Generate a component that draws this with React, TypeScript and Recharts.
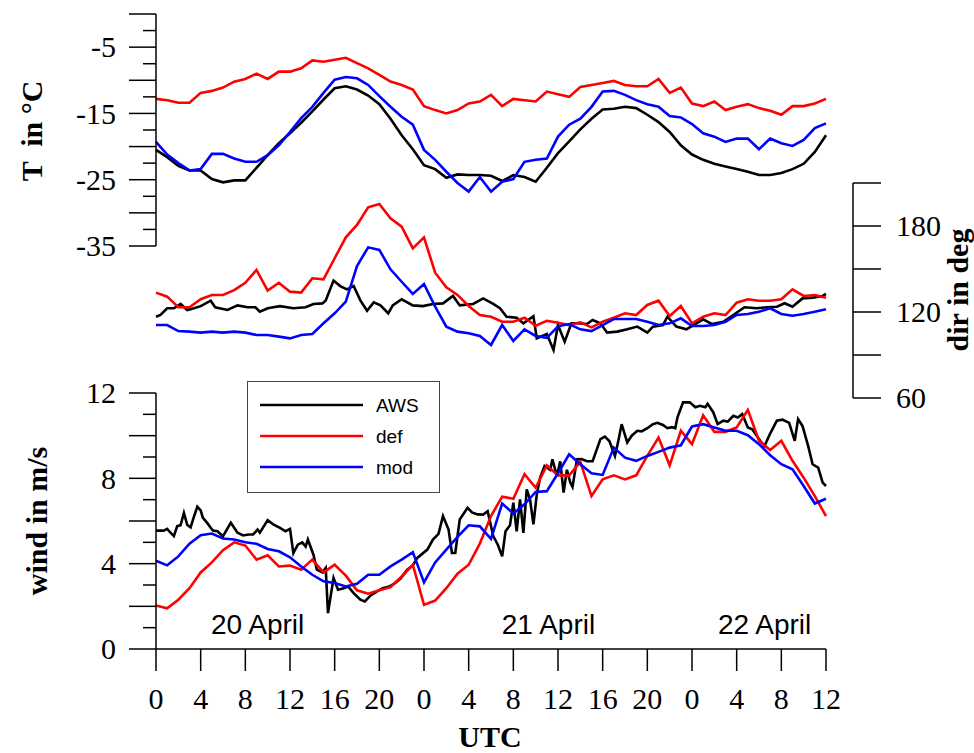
import { LineChart, Line, XAxis, YAxis, ReferenceDot } from 'recharts'

// hours since 20 April 00 UTC
const hours = Array.from({ length: 61 }, (_, i) => i)
const hourTicks = [0, 4, 8, 12, 16, 20, 24, 28, 32, 36, 40, 44, 48, 52, 56, 60]
const tempTicks = [-35, -32.5, -30, -27.5, -25, -22.5, -20, -17.5, -15, -12.5, -10, -7.5, -5, -2.5, 0]
const dirTicks = [60, 90, 120, 150, 180, 210]
const windTicks = [0, 1, 2, 3, 4, 5, 6, 7, 8, 9, 10, 11, 12]

const series = [
  { name: 'AWS', color: '#000000' },
  { name: 'def', color: '#ff0000' },
  { name: 'mod', color: '#0000ff' },
]

const dateLabels = [
  { h: 9.1, w: 1.18, text: '20 April' },
  { h: 35.15, w: 1.18, text: '21 April' },
  { h: 54.5, w: 1.18, text: '22 April' },
]

// temperature (°C), hourly
const tempAws = [
  -20.5, -21.6, -22.9, -23.6, -23.6, -24.9, -25.4, -25.1, -25.1, -23.2,
  -21.3, -19.5, -18.0, -16.4, -14.7, -12.9, -11.2, -10.9, -11.4, -12.3,
  -13.6, -15.8, -18.3, -20.4, -22.8, -23.4, -24.7, -24.2, -24.3, -24.3,
  -24.4, -25.2, -24.3, -24.6, -25.3, -23.2, -21.0, -19.2, -17.4, -15.8,
  -14.4, -14.3, -14.0, -14.2, -15.2, -16.3, -17.8, -19.8, -21.2, -22.0,
  -22.6, -23.0, -23.4, -23.8, -24.3, -24.3, -24.0, -23.4, -22.6, -20.8, -18.3,
]
const tempDef = [
  -12.8, -13.0, -13.4, -13.4, -11.9, -11.6, -11.1, -10.2, -9.8, -9.0,
  -9.8, -8.7, -8.7, -8.2, -7.0, -7.2, -6.9, -6.6, -7.4, -8.2,
  -9.2, -10.2, -10.7, -11.4, -13.9, -14.5, -15.0, -14.5, -13.5, -13.2,
  -12.2, -13.9, -12.8, -13.0, -13.2, -11.7, -12.1, -12.5, -11.0, -10.7,
  -10.4, -10.1, -10.7, -10.9, -10.9, -9.8, -11.9, -11.1, -13.5, -13.9,
  -13.2, -14.5, -14.0, -13.6, -14.2, -14.6, -15.2, -13.9, -13.9, -13.5, -12.8,
]
const tempMod = [
  -19.3, -21.2, -22.5, -23.6, -23.4, -21.1, -21.1, -21.8, -22.3, -22.3,
  -21.3, -19.8, -17.8, -15.7, -14.0, -11.9, -9.9, -9.5, -9.7, -10.7,
  -12.4, -14.0, -15.5, -16.7, -20.5, -22.0, -23.8, -25.5, -26.8, -24.6,
  -26.8, -25.3, -24.9, -22.3, -22.0, -21.8, -18.5, -16.7, -15.8, -14.0,
  -11.7, -11.6, -12.2, -13.0, -13.6, -14.0, -15.4, -15.6, -16.6, -18.0,
  -18.5, -19.3, -18.8, -18.8, -20.4, -18.8, -19.5, -19.9, -19.0, -17.2, -16.5,
]

// wind direction (deg)
const dirAws: [number, number][] = [
  [0, 116.7], [0.4, 118], [1.0, 122.6], [1.6, 122.6], [2.2, 125.6], [2.8, 121.4], [3.4, 122.6],
  [4.0, 124.1], [4.9, 127.9], [5.3, 123.3], [6.4, 121.4], [7.3, 124.6], [8.2, 123.3], [8.9, 123.3],
  [9.3, 120.2], [10.0, 122.6], [11.1, 124.1], [12.3, 122.6], [13.4, 123.3], [14.1, 125.6], [14.9, 126],
  [15.2, 128.1], [15.9, 141.9], [16.5, 138.1], [17.1, 135.8], [17.7, 138.1], [18.3, 128.1], [18.9, 120.9],
  [19.5, 126.7], [20.1, 124.6], [20.8, 119.1], [21.2, 124.6], [22.0, 128.9], [23.0, 124.6], [23.9, 124.1],
  [24.8, 125.6], [25.7, 126.0], [26.6, 131.2], [27.2, 124.6], [28.4, 125.6], [29.3, 129.5], [30.2, 125.6],
  [30.8, 122.6], [31.4, 116.7], [32.3, 116], [32.9, 112.1], [33.8, 117], [34.1, 101.6], [35.0, 104.7],
  [35.6, 93.5], [36.0, 110.9], [36.6, 99.3], [37.2, 112.1], [37.7, 112.1], [38.6, 111.6], [39.1, 114.4],
  [39.8, 112.1], [40.4, 105.6], [41.3, 106.3], [42.2, 107.9], [43.1, 109.8], [44.0, 105.6], [44.5, 109.8],
  [45.4, 110.9], [45.8, 116.7], [46.6, 109.8], [47.5, 107.9], [48.4, 112.1], [49.0, 114.9], [49.8, 111.6],
  [50.8, 113.2], [51.7, 117.9], [52.7, 123.3], [53.8, 122.6], [54.7, 123.3], [55.6, 123.7], [56.3, 126.1],
  [57.0, 123.7], [57.9, 129.5], [58.8, 130.0], [59.7, 131.2], [60.0, 132.7],
]
const dirDef = [
  133.5, 130.7, 123.3, 123.3, 128.9, 131.9, 131.9, 135.3, 140.4, 149.3,
  134.9, 140.4, 134.2, 133.5, 143.5, 142.8, 157.5, 172.1, 180.7, 193.0,
  195.3, 185.4, 179.5, 164.4, 172.1, 147.4, 137.2, 131.9, 124.2, 117.9,
  116.7, 113.2, 113.2, 116.0, 110.4, 113.9, 112.5, 110.9, 112.8, 109.3,
  113.2, 116.0, 119.1, 117.9, 124.9, 127.9, 117.2, 124.2, 112.1, 116.7,
  119.1, 117.9, 126.5, 128.9, 127.9, 127.9, 128.9, 135.8, 131.2, 131.9, 130.0,
]
const dirMod = [
  110.9, 110.9, 106.7, 106.3, 105.6, 106.3, 105.6, 106.3, 105.6, 104.0,
  104.0, 102.8, 101.6, 104.0, 104.7, 112.1, 119.1, 127.2, 152.1, 165.1,
  163.3, 149.8, 141.1, 132.6, 139.5, 123.7, 109.8, 106.3, 105.2, 103.3,
  97.0, 110.9, 99.8, 107.9, 103.3, 102.0, 110.0, 111.6, 107.9, 106.7,
  110.9, 115.1, 115.1, 115.1, 113.2, 110.9, 112.1, 115.6, 110.2, 110.2,
  110.9, 113.2, 117.9, 118.6, 120.2, 122.6, 118.6, 117.4, 118.6, 120.2, 121.9,
]

// wind speed (m/s)
const windAws: [number, number][] = [
  [0, 5.55], [0.7, 5.55], [1.0, 5.63], [1.3, 5.45], [1.6, 5.29], [1.9, 5.76], [2.2, 5.8], [2.5, 6.38],
  [2.8, 5.81], [3.1, 5.7], [3.4, 6.2], [3.7, 6.67], [4.0, 6.5], [4.2, 6.15], [4.6, 5.9], [4.9, 5.68],
  [5.1, 5.55], [5.5, 5.52], [6.0, 5.29], [6.7, 5.92], [7.3, 5.45], [7.8, 5.32], [8.3, 5.37], [8.7, 5.37],
  [9.1, 5.6], [9.3, 5.45], [10.0, 6.04], [10.5, 5.84], [11.1, 5.68], [11.6, 5.52], [12.0, 5.63], [12.3, 4.5],
  [12.7, 4.89], [13.1, 5.0], [13.4, 4.8], [13.6, 5.13], [14.1, 4.42], [14.4, 3.72], [14.9, 3.59], [15.2, 3.8],
  [15.4, 1.68], [15.9, 3.33], [16.3, 2.78], [16.8, 2.85], [17.2, 2.93], [17.7, 2.62], [18.3, 2.31], [18.7, 2.23],
  [19.2, 2.5], [19.8, 2.7], [20.3, 2.85], [20.9, 2.93], [21.4, 3.09], [21.9, 3.3], [22.5, 3.72], [23.0, 3.92],
  [23.4, 4.27], [24.3, 4.66], [24.8, 5.13], [25.3, 5.4], [25.7, 6.23], [26.2, 5.6], [26.5, 4.5], [26.8, 4.5],
  [27.2, 6.07], [27.9, 6.62], [28.3, 6.4], [28.8, 6.31], [29.3, 6.3], [29.7, 6.46], [30.2, 5.29], [30.6, 4.9],
  [31.0, 4.34], [31.3, 5.52], [31.7, 5.8], [32.0, 6.86], [32.3, 5.52], [32.6, 7.01], [32.9, 5.44], [33.2, 7.48],
  [33.5, 7.0], [33.8, 5.84], [34.1, 7.25], [34.4, 8.03], [34.8, 8.58], [35.3, 8.4], [35.5, 8.89], [35.9, 8.11],
  [36.2, 8.8], [36.5, 7.33], [36.8, 8.4], [37.1, 7.8], [37.3, 7.6], [37.7, 8.89], [38.1, 8.9], [38.6, 8.8],
  [39.1, 8.8], [39.8, 9.84], [40.2, 9.96], [40.6, 9.75], [41.1, 9.05], [41.4, 9.75], [41.7, 10.54], [42.2, 9.68],
  [42.6, 10.0], [43.1, 10.23], [43.5, 10.2], [44.0, 10.35], [44.5, 10.54], [44.9, 10.6], [45.4, 10.5], [45.8, 10.35],
  [46.2, 10.4], [46.5, 10.35], [46.7, 10.86], [47.2, 11.56], [47.8, 11.56], [48.3, 11.33], [48.7, 11.4], [49.2, 11.33],
  [49.4, 11.49], [49.9, 11.1], [50.3, 10.54], [50.8, 10.7], [51.2, 10.66], [51.7, 10.93], [52.1, 10.85], [52.5, 11.01],
  [53.0, 10.38], [53.4, 10.3], [54.1, 9.76], [54.5, 9.52], [55.0, 10.1], [55.6, 10.7], [56.1, 10.75], [56.7, 10.6],
  [57.2, 9.76], [57.5, 10.78], [57.9, 10.45], [58.4, 9.52], [58.8, 8.66], [59.3, 8.5], [59.7, 7.8], [60.0, 7.64],
]
const windDef = [
  2.04, 1.91, 2.31, 2.85, 3.59, 4.06, 4.63, 5.0, 4.85, 4.19,
  4.39, 3.87, 3.91, 3.72, 4.19, 3.59, 3.95, 3.44, 2.75, 2.59,
  2.75, 2.9, 3.4, 3.95, 2.07, 2.27, 2.85, 3.53, 3.95, 4.94,
  6.23, 7.14, 7.04, 8.19, 7.56, 8.61, 8.14, 8.14, 8.77, 7.17,
  7.95, 8.14, 7.95, 8.14, 9.05, 9.91, 8.61, 10.23, 9.6, 10.96,
  10.18, 10.18, 10.38, 11.21, 9.76, 9.33, 9.76, 8.82, 8.03, 7.17, 6.23,
]
const windMod = [
  4.14, 3.92, 4.34, 4.94, 5.33, 5.41, 5.18, 5.13, 5.0, 4.93,
  4.69, 4.58, 4.3, 3.87, 3.48, 3.17, 3.09, 2.93, 3.06, 3.48,
  3.48, 3.87, 4.19, 4.54, 3.12, 4.06, 4.66, 5.26, 5.8, 5.75,
  5.16, 6.82, 6.35, 6.78, 7.36, 7.4, 8.24, 9.13, 8.66, 8.24,
  8.16, 9.44, 8.97, 8.82, 9.05, 9.24, 9.44, 9.55, 10.43, 10.54,
  10.38, 10.23, 10.23, 10.02, 9.6, 9.08, 8.66, 8.42, 7.64, 6.82, 7.04,
]

const SERIF = "'Times New Roman', 'Liberation Serif', serif"
const SANS = "Arial, 'Liberation Sans', sans-serif"
const W = 974
const H = 753
const axisLine = { stroke: '#000', strokeWidth: 1.5 }

const toRows = (vals: number[]) => vals.map((v, i) => ({ h: hours[i], v }))
const toPts = (pts: [number, number][]) => pts.map(([h, v]) => ({ h, v }))
const isMult = (v: number, step: number) => Math.abs(v / step - Math.round(v / step)) < 1e-6

const layer: React.CSSProperties = { position: 'absolute', left: 0, top: 0 }

function LeftTick({ x, y, payload, major, label }: any) {
  const v = payload.value
  const len = major(v) ? 27 : 13
  return (
    <g>
      <line x1={x - len} x2={x} y1={y} y2={y} stroke="#000" strokeWidth={1.5} />
      {label(v) && (
        <text x={x - 40} y={y} dy="0.34em" textAnchor="end" fontFamily={SERIF} fontSize={30} fill="#000">
          {v}
        </text>
      )}
    </g>
  )
}

function RightTick({ x, y, payload }: any) {
  const v = payload.value
  return (
    <g>
      <line x1={x} x2={x + 28} y1={y} y2={y} stroke="#000" strokeWidth={1.5} />
      {isMult(v, 60) && (
        <text x={x + 43} y={y} dy="0.34em" textAnchor="start" fontFamily={SERIF} fontSize={30} fill="#000">
          {v}
        </text>
      )}
    </g>
  )
}

function HourTick({ x, y, payload }: any) {
  return (
    <g>
      <line x1={x} x2={x} y1={y} y2={y + 22} stroke="#000" strokeWidth={1.5} />
      <text x={x} y={y + 60} textAnchor="middle" fontFamily={SERIF} fontSize={30} fill="#000">
        {payload.value % 24}
      </text>
    </g>
  )
}

function lines(aws: { h: number; v: number }[], def: { h: number; v: number }[], mod: { h: number; v: number }[]) {
  return [aws, def, mod].map((d, i) => (
    <Line
      key={series[i].name}
      data={d}
      dataKey="v"
      type="linear"
      stroke={series[i].color}
      strokeWidth={2.6}
      dot={false}
      activeDot={false}
      isAnimationActive={false}
    />
  ))
}

export default function App() {
  return (
    <div style={{ position: 'absolute', left: 0, top: 0, width: W, height: H, background: '#fff', overflow: 'hidden' }}>
      {/* temperature */}
      <div style={layer}>
        <LineChart width={W} height={H} margin={{ top: 14, right: 148, bottom: 507, left: 96 }}>
          <XAxis type="number" dataKey="h" domain={[0, 60]} hide />
          <YAxis
            type="number"
            domain={[-35, 0]}
            ticks={tempTicks}
            interval={0}
            width={60}
            tickLine={false}
            tickSize={0}
            tickMargin={0}
            axisLine={axisLine}
            tick={(p: any) => (
              <LeftTick {...p} major={(v: number) => isMult(v, 5)} label={(v: number) => isMult(v, 5) && !isMult(v, 10)} />
            )}
          />
          {lines(toRows(tempAws), toRows(tempDef), toRows(tempMod))}
        </LineChart>
      </div>

      {/* wind direction: axis sits right of the data end, so the x domain runs past 60 h */}
      <div style={layer}>
        <LineChart width={W} height={H} margin={{ top: 183, right: 61, bottom: 355, left: 156 }}>
          <XAxis type="number" dataKey="h" domain={[0, 62.42]} hide />
          <YAxis
            type="number"
            orientation="right"
            domain={[60, 210]}
            ticks={dirTicks}
            interval={0}
            width={60}
            tickLine={false}
            tickSize={0}
            tickMargin={0}
            axisLine={axisLine}
            tick={(p: any) => <RightTick {...p} />}
          />
          {lines(toPts(dirAws), toRows(dirDef), toRows(dirMod))}
        </LineChart>
      </div>

      {/* wind speed */}
      <div style={layer}>
        <LineChart width={W} height={H} margin={{ top: 393, right: 148, bottom: 44, left: 96 }}>
          <XAxis
            type="number"
            dataKey="h"
            domain={[0, 60]}
            ticks={hourTicks}
            interval={0}
            height={60}
            tickLine={false}
            tickSize={0}
            tickMargin={0}
            axisLine={axisLine}
            tick={(p: any) => <HourTick {...p} />}
          />
          <YAxis
            type="number"
            domain={[0, 12]}
            ticks={windTicks}
            interval={0}
            width={60}
            tickLine={false}
            tickSize={0}
            tickMargin={0}
            axisLine={axisLine}
            tick={(p: any) => (
              <LeftTick {...p} major={(v: number) => isMult(v, 2)} label={(v: number) => isMult(v, 4)} />
            )}
          />
          {dateLabels.map((d) => (
            <ReferenceDot
              key={d.text}
              x={d.h}
              y={d.w}
              r={0}
              fill="none"
              stroke="none"
              label={{ value: d.text, position: 'center', fontSize: 28, fontFamily: SANS, fill: '#000' }}
            />
          ))}
          {lines(toPts(windAws), toRows(windDef), toRows(windMod))}
        </LineChart>
      </div>

      {/* axis titles and legend */}
      <svg width={W} height={H} style={layer}>
        <g fontFamily={SERIF} fontWeight="bold" fontSize={30} fill="#000">
          <text transform="translate(42,131) rotate(-90)" textAnchor="middle" style={{ whiteSpace: 'pre' }}>
            {'T  in °C'}
          </text>
          <text transform="translate(47,521) rotate(-90)" textAnchor="middle">wind in m/s</text>
          <text transform="translate(968,290) rotate(-90)" textAnchor="middle">dir in deg</text>
          <text x={490} y={747} textAnchor="middle">UTC</text>
        </g>
        <rect x={247.5} y={381.5} width={192} height={111} fill="#fff" stroke="#444" strokeWidth={1} />
        {series.map((s, i) => (
          <g key={s.name}>
            <line x1={260} x2={363} y1={405 + i * 31} y2={405 + i * 31} stroke={s.color} strokeWidth={2.6} />
            <text x={376} y={405 + i * 31} dy="0.35em" fontFamily={SANS} fontSize={19} fill="#000">
              {s.name}
            </text>
          </g>
        ))}
      </svg>
    </div>
  )
}
